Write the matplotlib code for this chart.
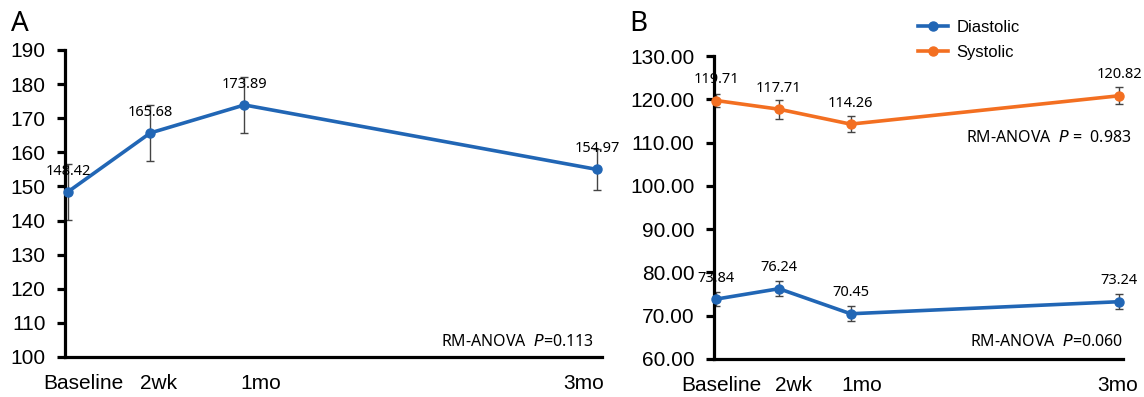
import matplotlib
matplotlib.use("Agg")
import matplotlib.pyplot as plt
from matplotlib.transforms import ScaledTranslation

# ---- data ----
timepoints = ["Baseline", "2wk", "1mo", "3mo"]
days = [0, 14, 30, 90]

a_values = [148.42, 165.68, 173.89, 154.97]
a_err = [8.2, 8.3, 8.2, 6.0]

dia_values = [73.84, 76.24, 70.45, 73.24]
dia_err = [1.6, 1.8, 1.7, 1.7]
sys_values = [119.71, 117.71, 114.26, 120.82]
sys_err = [1.6, 2.2, 1.8, 2.0]

a_yticks = list(range(100, 191, 10))
b_yticks = [60, 70, 80, 90, 100, 110, 120, 130]

# ---- style ----
BLUE = "#2166B5"
ORANGE = "#F36F21"
ERRC = "#444444"
TICK_FONT = "Liberation Sans"
LABEL_FONT = ["Noto Sans", "DejaVu Sans"]

W, H = 1144, 397
fig = plt.figure(figsize=(W / 100, H / 100), dpi=100)

axA = fig.add_axes([65 / W, 1 - 357 / H, 537 / W, 307 / H])
axB = fig.add_axes([714 / W, 1 - 359 / H, 409 / W, 303 / H])


def style_axes(ax, yticks, fmt, offsets):
    for s in ("top", "right"):
        ax.spines[s].set_visible(False)
    for s in ("left", "bottom"):
        ax.spines[s].set_linewidth(2.3)
        ax.spines[s].set_color("black")
    ax.set_xlim(-0.5, 90.8)
    ax.set_ylim(yticks[0], yticks[-1])
    ax.set_yticks(yticks)
    ax.set_yticklabels([fmt.format(v) for v in yticks], fontsize=15, family=TICK_FONT)
    ax.tick_params(axis="y", direction="out", length=6, width=2.3, pad=8)
    ax.set_xticks(days)
    ax.set_xticklabels(timepoints, fontsize=15, family=TICK_FONT)
    ax.tick_params(axis="x", length=0, pad=12)
    for lab, dx in zip(ax.get_xticklabels(), offsets):
        lab.set_transform(lab.get_transform() + ScaledTranslation(dx / 100, 0, fig.dpi_scale_trans))


def series(ax, vals, errs, color, label=None):
    ax.errorbar(days, vals, yerr=errs, fmt="none", ecolor=ERRC, elinewidth=1.0,
                capsize=3, capthick=1.0, zorder=2)
    ax.plot(days, vals, color=color, lw=2.6, marker="o", markersize=6.5,
            zorder=3, label=label, clip_on=False)
    for x, v in zip(days, vals):
        ax.annotate(f"{v:.2f}", (x, v), xytext=(0, 15), textcoords="offset points",
                    ha="center", va="center", fontsize=10.5, family=LABEL_FONT,
                    zorder=4, annotation_clip=False)


# Panel A
style_axes(axA, a_yticks, "{:d}", [15, 8, 16, -14])
series(axA, a_values, a_err, BLUE)
axA.text(0.985, 0.05, r"RM-ANOVA  $\mathit{P}$=0.113", transform=axA.transAxes,
         ha="right", va="center", fontsize=11.5, family=LABEL_FONT)

# Panel B
style_axes(axB, b_yticks, "{:.2f}", [5, 15, 11, -2])
series(axB, dia_values, dia_err, BLUE, "Diastolic")
series(axB, sys_values, sys_err, ORANGE, "Systolic")
axB.text(1.02, 0.73, r"RM-ANOVA  $\mathit{P}$ =  0.983", transform=axB.transAxes,
         ha="right", va="center", fontsize=11.5, family=LABEL_FONT)
axB.text(1.0, 0.055, r"RM-ANOVA  $\mathit{P}$=0.060", transform=axB.transAxes,
         ha="right", va="center", fontsize=11.5, family=LABEL_FONT)

h1, = [l for l in axB.get_lines() if l.get_label() == "Diastolic"]
h2, = [l for l in axB.get_lines() if l.get_label() == "Systolic"]
fig.legend([h1, h2], ["Diastolic", "Systolic"], loc="upper left",
           bbox_to_anchor=(918 / W, 1 - 20 / H), frameon=False,
           prop={"family": TICK_FONT, "size": 12}, handlelength=1.8,
           handletextpad=0.5, labelspacing=0.6, borderpad=0, borderaxespad=0)

# Panel letters
fig.text(11 / W, 1 - 31 / H, "A", fontsize=20, family=LABEL_FONT, va="baseline")
fig.text(629 / W, 1 - 31 / H, "B", fontsize=20, family=LABEL_FONT, va="baseline")

fig.savefig("out.png", dpi=100)
